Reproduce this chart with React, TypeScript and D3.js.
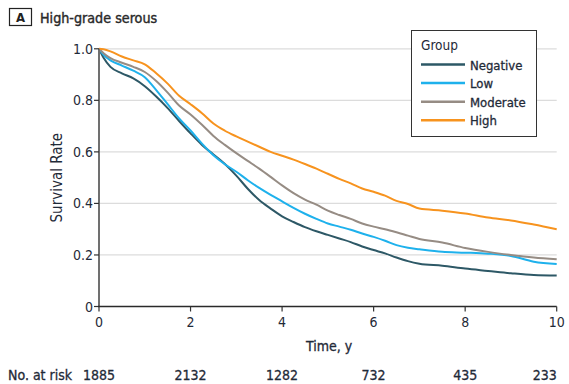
import React from "react";
import * as d3 from "d3";

const times = [0, 0.1, 0.25, 0.5, 0.75, 1.0, 1.25, 1.5, 1.75, 2.0, 2.25, 2.5, 2.75, 3.0, 3.25, 3.5, 3.75, 4.0, 4.25, 4.5, 4.75, 5.0, 5.25, 5.5, 5.75, 6.0, 6.25, 6.5, 6.75, 7.0, 7.5, 8.0, 8.5, 9.0, 9.5, 10];

const negative = [1.0, 0.965, 0.93, 0.905, 0.885, 0.855, 0.815, 0.77, 0.72, 0.672, 0.627, 0.59, 0.553, 0.508, 0.457, 0.413, 0.38, 0.35, 0.328, 0.308, 0.292, 0.278, 0.264, 0.25, 0.233, 0.219, 0.206, 0.19, 0.176, 0.166, 0.158, 0.147, 0.138, 0.129, 0.122, 0.12];
const low = [1.0, 0.977, 0.955, 0.935, 0.915, 0.89, 0.84, 0.785, 0.73, 0.683, 0.632, 0.587, 0.552, 0.523, 0.49, 0.46, 0.433, 0.408, 0.383, 0.36, 0.34, 0.322, 0.31, 0.298, 0.283, 0.27, 0.255, 0.238, 0.228, 0.222, 0.212, 0.209, 0.205, 0.196, 0.174, 0.165];
const moderate = [1.0, 0.983, 0.964, 0.946, 0.93, 0.91, 0.875, 0.83, 0.78, 0.745, 0.705, 0.662, 0.627, 0.595, 0.565, 0.535, 0.503, 0.47, 0.44, 0.415, 0.395, 0.372, 0.355, 0.34, 0.322, 0.31, 0.3, 0.288, 0.275, 0.262, 0.248, 0.227, 0.212, 0.2, 0.19, 0.183];
const high = [1.0, 0.998, 0.99, 0.97, 0.955, 0.94, 0.905, 0.865, 0.818, 0.785, 0.75, 0.71, 0.682, 0.66, 0.64, 0.62, 0.6, 0.585, 0.57, 0.553, 0.535, 0.515, 0.495, 0.478, 0.458, 0.445, 0.43, 0.41, 0.398, 0.38, 0.372, 0.361, 0.345, 0.334, 0.318, 0.3];

const groups = ["Negative", "Low", "Moderate", "High"];
const seriesValues = [negative, low, moderate, high];
const colors = ["#2d5866", "#1eb1ec", "#968c84", "#f7931e"];

const yTicks = [0, 0.2, 0.4, 0.6, 0.8, 1.0];
const yTickLabels = ["0", "0.2", "0.4", "0.6", "0.8", "1.0"];
const xTicks = [0, 2, 4, 6, 8, 10];
const atRisk = ["1885", "2132", "1282", "732", "435", "233"];

const FONT = "'DejaVu Sans Condensed', 'DejaVu Sans', sans-serif";
const TEXT = "#1f2a38";

export default function App() {
  const W = 569, H = 384;
  const x = d3.scaleLinear().domain([0, 10]).range([99, 556.7]);
  const y = d3.scaleLinear().domain([0, 1]).range([306.5, 48.8]);
  const line = d3
    .line<[number, number]>()
    .x((d) => x(d[0]))
    .y((d) => y(d[1]))
    .curve(d3.curveMonotoneX);

  const legendX = 411, legendY = 30;
  const semi = { stroke: TEXT, strokeWidth: 0.3 };

  return (
    <svg width={W} height={H} style={{ position: "absolute", left: 0, top: 0, background: "#fff" }} fontFamily={FONT} fontStretch="condensed">
      {/* Title */}
      <rect x={9.5} y={8.5} width={22} height={17} fill="none" stroke="#222" strokeWidth={1.2} />
      <text x={20.5} y={22} textAnchor="middle" fontSize={13} fontWeight={700} fill="#222">A</text>
      <text x={40} y={22.5} fontSize={14.2} fill="#2a2a2a" stroke="#2a2a2a" strokeWidth={0.4}>High-grade serous</text>

      {/* gridlines */}
      {yTicks.filter((t) => t > 0).map((t) => (
        <line key={t} x1={x(0)} x2={x(10)} y1={y(t)} y2={y(t)} stroke="#dcdcdc" strokeWidth={1.2} />
      ))}

      {/* curves */}
      {seriesValues.map((vals, i) => (
        <path
          key={groups[i]}
          d={line(times.map((t, j) => [t, vals[j]] as [number, number])) || ""}
          fill="none"
          stroke={colors[i]}
          strokeWidth={2}
          strokeLinejoin="round"
        />
      ))}

      {/* y axis */}
      <line x1={x(0)} x2={x(0)} y1={y(1)} y2={y(0)} stroke="#707070" strokeWidth={2} />
      {yTicks.map((t, i) => (
        <g key={t}>
          <line x1={x(0) - 5} x2={x(0)} y1={y(t)} y2={y(t)} stroke="#333" strokeWidth={1.2} />
          <text x={x(0) - 6} y={y(t) + 5} textAnchor="end" fontSize={14} fill={TEXT}>{yTickLabels[i]}</text>
        </g>
      ))}
      <text transform={`translate(62,${(y(0) + y(1)) / 2}) rotate(-90)`} textAnchor="middle" fontSize={15} fill={TEXT}>Survival Rate</text>

      {/* x axis */}
      <line x1={x(0) - 1} x2={x(10)} y1={y(0)} y2={y(0)} stroke="#2a2a2a" strokeWidth={1.5} />
      {xTicks.map((t) => (
        <g key={t}>
          <line x1={x(t)} x2={x(t)} y1={y(0)} y2={y(0) + 5} stroke="#333" strokeWidth={1.2} />
          <text x={x(t)} y={y(0) + 20} textAnchor="middle" fontSize={14} fill={TEXT}>{t}</text>
        </g>
      ))}
      <text x={329} y={351} textAnchor="middle" fontSize={14} fill={TEXT} {...semi}>Time, y</text>

      {/* at risk */}
      <text x={8} y={380} fontSize={14} fill={TEXT} {...semi}>No. at risk</text>
      {xTicks.map((t, i) => (
        <text key={t} x={i === xTicks.length - 1 ? x(t) : x(t)} y={380} textAnchor={i === xTicks.length - 1 ? "end" : "middle"} fontSize={14} fill={TEXT} {...semi}>{atRisk[i]}</text>
      ))}

      {/* legend */}
      <rect x={legendX + 0.5} y={legendY + 0.5} width={125} height={106} fill="#fff" stroke="#333" strokeWidth={1} />
      <text x={421} y={49.5} fontSize={13.5} fill={TEXT}>Group</text>
      {groups.map((g, i) => (
        <g key={g}>
          <line x1={421} x2={465} y1={64.5 + i * 18.6} y2={64.5 + i * 18.6} stroke={colors[i]} strokeWidth={2.5} />
          <text x={470} y={69.5 + i * 18.6} fontSize={13} fill={TEXT} {...semi}>{g}</text>
        </g>
      ))}
    </svg>
  );
}
